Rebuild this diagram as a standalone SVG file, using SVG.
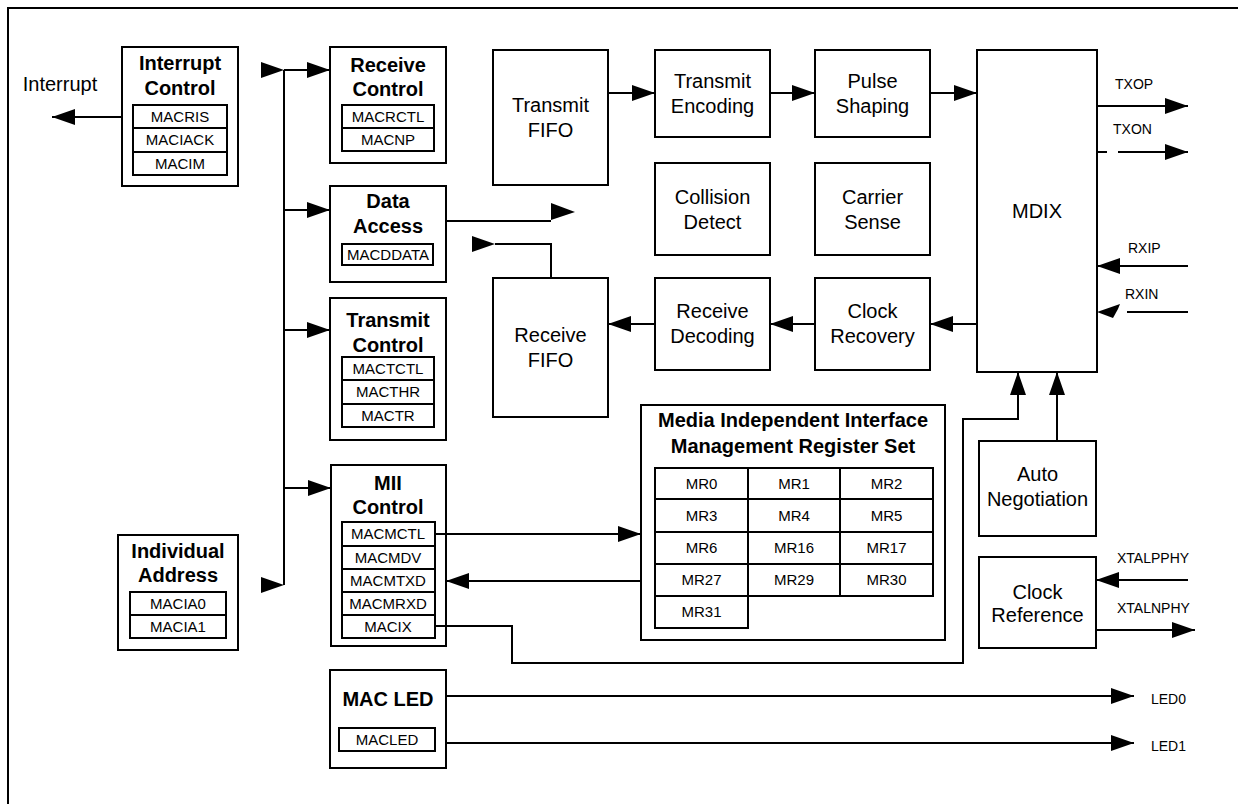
<svg xmlns="http://www.w3.org/2000/svg" width="1238" height="804" viewBox="0 0 1238 804">
<style>
text{font-family:"Liberation Sans",Arial,sans-serif;fill:#000}
.t{font-size:20px;text-anchor:middle}
.b{font-size:20px;font-weight:bold;text-anchor:middle}
.r{font-size:15px;text-anchor:middle}
.s{font-size:14px}
.box{fill:#fff;stroke:#000;stroke-width:2}
.reg{fill:#fff;stroke:#000;stroke-width:2}
.ln{fill:none;stroke:#000;stroke-width:2}
.ah{fill:#000;stroke:none}
</style>
<defs>
<marker id="arr" markerUnits="userSpaceOnUse" markerWidth="24" markerHeight="18" refX="23" refY="8" orient="auto" overflow="visible">
<path d="M0,0 L23,8 L0,16 z" fill="#000"/>
</marker>
</defs>
<rect width="1238" height="804" fill="#fff"/>
<path class="ln" d="M8,812 V8 H1246"/>

<g id="interrupt-control">
<rect class="box" x="122" y="47" width="116" height="139"/>
<text class="b" x="180" y="70">Interrupt</text>
<text class="b" x="180" y="95">Control</text>
<rect class="reg" x="133" y="105" width="94" height="23"/>
<rect class="reg" x="133" y="128" width="94" height="24"/>
<rect class="reg" x="133" y="152" width="94" height="23"/>
<text class="r" x="180" y="122">MACRIS</text>
<text class="r" x="180" y="145">MACIACK</text>
<text class="r" x="180" y="169">MACIM</text>
</g>

<g id="receive-control">
<rect class="box" x="330" y="47" width="116" height="116"/>
<text class="b" x="388" y="72">Receive</text>
<text class="b" x="388" y="96">Control</text>
<rect class="reg" x="342" y="105" width="92" height="23"/>
<rect class="reg" x="342" y="128" width="92" height="23"/>
<text class="r" x="388" y="122">MACRCTL</text>
<text class="r" x="388" y="145">MACNP</text>
</g>

<g id="data-access">
<rect class="box" x="330" y="186" width="116" height="96"/>
<text class="b" x="388" y="208">Data</text>
<text class="b" x="388" y="233">Access</text>
<rect class="reg" x="342" y="244" width="91" height="21"/>
<text class="r" x="388" y="260">MACDDATA</text>
</g>

<g id="transmit-control">
<rect class="box" x="330" y="298" width="116" height="142"/>
<text class="b" x="388" y="327">Transmit</text>
<text class="b" x="388" y="352">Control</text>
<rect class="reg" x="342" y="357" width="92" height="23"/>
<rect class="reg" x="342" y="380" width="92" height="24"/>
<rect class="reg" x="342" y="404" width="92" height="23"/>
<text class="r" x="388" y="374">MACTCTL</text>
<text class="r" x="388" y="397">MACTHR</text>
<text class="r" x="388" y="421">MACTR</text>
</g>

<g id="mii-control">
<rect class="box" x="331" y="465" width="115" height="181"/>
<text class="b" x="388" y="490">MII</text>
<text class="b" x="388" y="514">Control</text>
<rect class="reg" x="342" y="522" width="93" height="24"/>
<rect class="reg" x="342" y="546" width="93" height="23"/>
<rect class="reg" x="342" y="569" width="93" height="23"/>
<rect class="reg" x="342" y="592" width="93" height="23"/>
<rect class="reg" x="342" y="615" width="93" height="23"/>
<text class="r" x="388" y="539">MACMCTL</text>
<text class="r" x="388" y="563">MACMDV</text>
<text class="r" x="388" y="586">MACMTXD</text>
<text class="r" x="388" y="609">MACMRXD</text>
<text class="r" x="388" y="632">MACIX</text>
</g>

<g id="individual-address">
<rect class="box" x="118" y="535" width="120" height="115"/>
<text class="b" x="178" y="558">Individual</text>
<text class="b" x="178" y="582">Address</text>
<rect class="reg" x="130" y="592" width="96" height="23"/>
<rect class="reg" x="130" y="615" width="96" height="23"/>
<text class="r" x="178" y="609">MACIA0</text>
<text class="r" x="178" y="632">MACIA1</text>
</g>

<g id="mac-led">
<rect class="box" x="330" y="670" width="116" height="98"/>
<text class="b" x="388" y="706">MAC LED</text>
<rect class="reg" x="339" y="728" width="96" height="23"/>
<text class="r" x="387" y="745">MACLED</text>
</g>

<g id="transmit-fifo">
<rect class="box" x="493" y="50" width="115" height="135"/>
<text class="t" x="550.5" y="112">Transmit</text>
<text class="t" x="550.5" y="137">FIFO</text>
</g>
<g id="transmit-encoding">
<rect class="box" x="655" y="50" width="115" height="87"/>
<text class="t" x="712.5" y="88">Transmit</text>
<text class="t" x="712.5" y="113">Encoding</text>
</g>
<g id="pulse-shaping">
<rect class="box" x="815" y="50" width="115" height="87"/>
<text class="t" x="872.5" y="88">Pulse</text>
<text class="t" x="872.5" y="113">Shaping</text>
</g>
<g id="collision-detect">
<rect class="box" x="655" y="163" width="115" height="92"/>
<text class="t" x="712.5" y="204">Collision</text>
<text class="t" x="712.5" y="229">Detect</text>
</g>
<g id="carrier-sense">
<rect class="box" x="815" y="163" width="115" height="92"/>
<text class="t" x="872.5" y="204">Carrier</text>
<text class="t" x="872.5" y="229">Sense</text>
</g>
<g id="receive-fifo">
<rect class="box" x="493" y="278" width="115" height="139"/>
<text class="t" x="550.5" y="342">Receive</text>
<text class="t" x="550.5" y="367">FIFO</text>
</g>
<g id="receive-decoding">
<rect class="box" x="655" y="278" width="115" height="92"/>
<text class="t" x="712.5" y="318">Receive</text>
<text class="t" x="712.5" y="343">Decoding</text>
</g>
<g id="clock-recovery">
<rect class="box" x="815" y="278" width="115" height="92"/>
<text class="t" x="872.5" y="318">Clock</text>
<text class="t" x="872.5" y="343">Recovery</text>
</g>
<g id="mdix">
<rect class="box" x="977" y="50" width="120" height="322"/>
<text class="t" x="1037" y="218">MDIX</text>
</g>
<g id="auto-negotiation">
<rect class="box" x="979" y="441" width="117" height="95"/>
<text class="t" x="1037.5" y="481">Auto</text>
<text class="t" x="1037.5" y="506">Negotiation</text>
</g>
<g id="clock-reference">
<rect class="box" x="979" y="557" width="117" height="91"/>
<text class="t" x="1037.5" y="599">Clock</text>
<text class="t" x="1037.5" y="622">Reference</text>
</g>

<g id="mii-register-set">
<rect class="box" x="641" y="405" width="304" height="235"/>
<text class="b" x="793" y="427">Media Independent Interface</text>
<text class="b" x="793" y="453">Management Register Set</text>
<path class="ln" d="M655,468 H933 V596 H655 Z M655,499 H933 M655,532 H933 M655,564 H933 M748,468 V596 M840,468 V596 M655,596 V628 H748 V596"/>
<text class="r" x="701.5" y="489">MR0</text>
<text class="r" x="794" y="489">MR1</text>
<text class="r" x="886.5" y="489">MR2</text>
<text class="r" x="701.5" y="521">MR3</text>
<text class="r" x="794" y="521">MR4</text>
<text class="r" x="886.5" y="521">MR5</text>
<text class="r" x="701.5" y="553">MR6</text>
<text class="r" x="794" y="553">MR16</text>
<text class="r" x="886.5" y="553">MR17</text>
<text class="r" x="701.5" y="585">MR27</text>
<text class="r" x="794" y="585">MR29</text>
<text class="r" x="886.5" y="585">MR30</text>
<text class="r" x="701.5" y="617">MR31</text>
</g>

<g id="connectors">
<path class="ln" d="M122,117 H52" marker-end="url(#arr)"/>
<path class="ln" d="M284,70 V585"/>
<polygon class="ah" points="261,62 284,70 261,78"/>
<polygon class="ah" points="261,577 284,585 261,593"/>
<path class="ln" d="M284,70 H330" marker-end="url(#arr)"/>
<path class="ln" d="M284,210 H330" marker-end="url(#arr)"/>
<path class="ln" d="M284,330 H330" marker-end="url(#arr)"/>
<path class="ln" d="M284,488 H331" marker-end="url(#arr)"/>
<path class="ln" d="M446,221 H551"/>
<polygon class="ah" points="551,203 575,212 551,220"/>
<path class="ln" d="M551,278 V244 H495"/>
<polygon class="ah" points="472,236 495,244 472,252"/>
<path class="ln" d="M608,93 H655" marker-end="url(#arr)"/>
<path class="ln" d="M770,93 H815" marker-end="url(#arr)"/>
<path class="ln" d="M930,93 H977" marker-end="url(#arr)"/>
<path class="ln" d="M977,324 H930" marker-end="url(#arr)"/>
<path class="ln" d="M815,324 H770" marker-end="url(#arr)"/>
<path class="ln" d="M655,324 H608" marker-end="url(#arr)"/>
<path class="ln" d="M435,534 H641" marker-end="url(#arr)"/>
<path class="ln" d="M641,581 H446" marker-end="url(#arr)"/>
<path class="ln" d="M435,626 H512 V663 H963 V419 H1018 V372" marker-end="url(#arr)"/>
<path class="ln" d="M1057,441 V372" marker-end="url(#arr)"/>
<path class="ln" d="M1097,106 H1188" marker-end="url(#arr)"/>
<path class="ln" d="M1097,152 H1107 M1118,152 H1188" marker-end="url(#arr)"/>
<path class="ln" d="M1188,266 H1097" marker-end="url(#arr)"/>
<path class="ln" d="M1188,312 H1127"/>
<polygon class="ah" points="1097,312 1120,304 1118,309 1113,318"/>
<path class="ln" d="M1188,580 H1096" marker-end="url(#arr)"/>
<path class="ln" d="M1096,630 H1195" marker-end="url(#arr)"/>
<path class="ln" d="M446,696 H1134" marker-end="url(#arr)"/>
<path class="ln" d="M446,743 H1134" marker-end="url(#arr)"/>
</g>

<g id="labels">
<text class="t" x="60" y="91">Interrupt</text>
<text class="s" x="1115" y="89">TXOP</text>
<text class="s" x="1113" y="134">TXON</text>
<text class="s" x="1128" y="253">RXIP</text>
<text class="s" x="1125" y="299">RXIN</text>
<text class="s" x="1117" y="563">XTALPPHY</text>
<text class="s" x="1117" y="613">XTALNPHY</text>
<text class="s" x="1151" y="704">LED0</text>
<text class="s" x="1151" y="751">LED1</text>
</g>
</svg>
